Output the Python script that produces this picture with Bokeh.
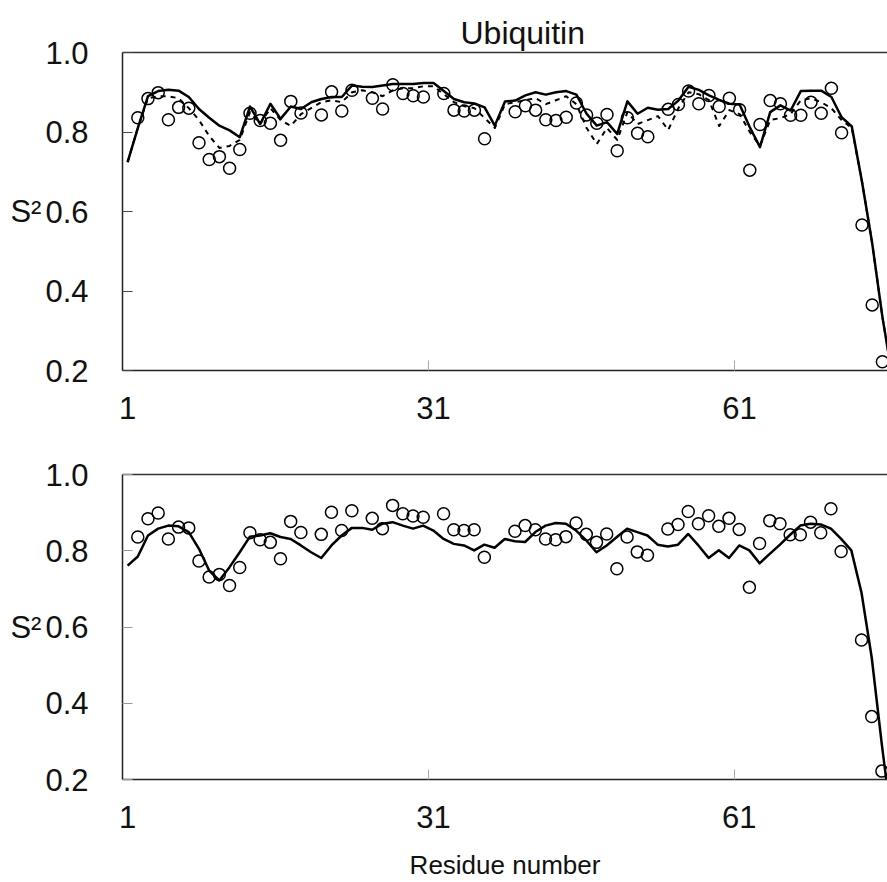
from bokeh.plotting import figure
from bokeh.layouts import column
from bokeh.models import (FixedTicker, LinearAxis, Range1d,
                          PrintfTickFormatter, ColumnDataSource)
from bokeh.embed import file_html
from bokeh.resources import INLINE

# ---------------- data ----------------
residues = list(range(1, 77))

# top panel: simulated S2, solid line
md_top_solid = [0.724, 0.810, 0.890, 0.903, 0.906, 0.904, 0.888, 0.858, 0.836, 0.816,
                0.804, 0.787, 0.864, 0.820, 0.871, 0.833, 0.864, 0.858, 0.875, 0.883,
                0.888, 0.888, 0.917, 0.914, 0.913, 0.917, 0.921, 0.921, 0.921, 0.923,
                0.923, 0.903, 0.883, 0.875, 0.872, 0.862, 0.816, 0.877, 0.879, 0.892,
                0.900, 0.894, 0.900, 0.903, 0.894, 0.846, 0.816, 0.825, 0.795, 0.877,
                0.846, 0.861, 0.856, 0.858, 0.879, 0.914, 0.906, 0.892, 0.881, 0.871,
                0.869, 0.812, 0.762, 0.850, 0.867, 0.854, 0.903, 0.904, 0.904, 0.888,
                0.837, 0.814, 0.675, 0.520, 0.335, 0.180]

# top panel: simulated S2, dashed line
md_top_dashed = [0.724, 0.810, 0.885, 0.890, 0.890, 0.885, 0.860, 0.830, 0.790, 0.760,
                 0.765, 0.780, 0.850, 0.820, 0.860, 0.830, 0.815, 0.845, 0.860, 0.875,
                 0.880, 0.875, 0.900, 0.905, 0.900, 0.890, 0.905, 0.910, 0.910, 0.915,
                 0.915, 0.895, 0.875, 0.865, 0.860, 0.835, 0.810, 0.870, 0.875, 0.880,
                 0.885, 0.870, 0.880, 0.890, 0.870, 0.810, 0.770, 0.810, 0.780, 0.850,
                 0.820, 0.830, 0.840, 0.805, 0.860, 0.900, 0.895, 0.880, 0.815, 0.855,
                 0.845, 0.800, 0.765, 0.830, 0.835, 0.845, 0.880, 0.885, 0.875, 0.860,
                 0.830, 0.810, 0.675, 0.520, 0.335, 0.180]

# bottom panel: simulated S2, solid line
md_bottom = [0.761, 0.785, 0.840, 0.858, 0.866, 0.864, 0.849, 0.805, 0.748, 0.722,
             0.757, 0.796, 0.837, 0.840, 0.846, 0.836, 0.831, 0.814, 0.796, 0.781,
             0.814, 0.840, 0.860, 0.860, 0.855, 0.871, 0.875, 0.866, 0.858, 0.866,
             0.853, 0.831, 0.818, 0.814, 0.801, 0.816, 0.808, 0.831, 0.825, 0.823,
             0.849, 0.866, 0.873, 0.871, 0.853, 0.827, 0.796, 0.814, 0.836, 0.858,
             0.849, 0.840, 0.816, 0.811, 0.816, 0.844, 0.814, 0.781, 0.801, 0.781,
             0.814, 0.801, 0.767, 0.792, 0.816, 0.842, 0.866, 0.871, 0.869, 0.858,
             0.831, 0.801, 0.690, 0.520, 0.290, 0.080]

# experimental S2 (open circles), same in both panels
exp_res = [2, 3, 4, 5, 6, 7, 8, 9, 10, 11, 12, 13, 14, 15, 16, 17, 18, 20, 21, 22,
           23, 25, 26, 27, 28, 29, 30, 32, 33, 34, 35, 36, 39, 40, 41, 42, 43, 44, 45,
           46, 47, 48, 49, 50, 51, 52, 54, 55, 56, 57, 58, 59, 60, 61, 62, 63, 64, 65,
           66, 67, 68, 69, 70, 71, 73, 74, 75]
exp_s2 = [0.836, 0.884, 0.899, 0.831, 0.862, 0.860, 0.773, 0.731, 0.738, 0.709,
          0.756, 0.847, 0.829, 0.822, 0.779, 0.877, 0.848, 0.843, 0.901, 0.853,
          0.905, 0.885, 0.858, 0.919, 0.897, 0.891, 0.888, 0.897, 0.855, 0.853,
          0.855, 0.783, 0.851, 0.866, 0.855, 0.831, 0.829, 0.837, 0.873, 0.843,
          0.822, 0.844, 0.753, 0.836, 0.797, 0.788, 0.857, 0.869, 0.903, 0.871,
          0.892, 0.864, 0.885, 0.856, 0.704, 0.819, 0.879, 0.871, 0.842, 0.842,
          0.875, 0.847, 0.910, 0.798, 0.566, 0.365, 0.222]

x_ticks = [1, 31, 61]
x_tick_labels = ["1", "31", "61"]
y_ticks = [0.2, 0.4, 0.6, 0.8, 1.0]

title_text = "Ubiquitin"
x_title = "Residue number"
y_title = "S\u00b2"

FONT = "Liberation Sans"
TXT = "#111111"


def make_panel(height, b_top, b_bottom, b_left, x_end, tick_color, with_title,
               with_xlabel):
    p = figure(width=887, height=height,
               x_range=Range1d(0.5, x_end), y_range=Range1d(0.2, 1.0),
               output_backend="svg", toolbar_location=None,
               x_axis_type=None, y_axis_type=None,
               min_border_left=b_left, min_border_right=0,
               min_border_top=b_top, min_border_bottom=b_bottom)
    p.outline_line_color = None
    p.background_fill_color = "white"
    p.border_fill_color = "white"

    if with_title:
        p.title.text = title_text
        p.title.align = "left"
        p.title.offset = 338
        p.title.standoff = 3
        p.title.text_font = FONT
        p.title.text_font_size = "32px"
        p.title.text_font_style = "normal"
        p.title.text_color = TXT

    # bottom x axis: labels at category centres, tick marks between categories
    boundaries = [t - 0.5 for t in x_ticks[1:]]
    xa = LinearAxis(ticker=FixedTicker(ticks=x_ticks, minor_ticks=boundaries),
                    major_label_overrides={t: l for t, l in zip(x_ticks, x_tick_labels)})
    xa.major_tick_line_color = None
    xa.minor_tick_in = 10
    xa.minor_tick_out = 0
    xa.minor_tick_line_color = "#aaaaaa"
    xa.minor_tick_line_width = 1
    xa.axis_line_color = "#222222"
    xa.axis_line_width = 1.5
    xa.major_label_standoff = 20
    xa.major_label_text_font = FONT
    xa.major_label_text_font_size = "31px"
    xa.major_label_text_color = TXT
    if with_xlabel:
        xa.axis_label = x_title
        xa.axis_label_text_font = FONT
        xa.axis_label_text_font_size = "26px"
        xa.axis_label_text_font_style = "normal"
        xa.axis_label_text_color = TXT
        xa.axis_label_standoff = 19
    p.add_layout(xa, "below")

    ya = LinearAxis(ticker=FixedTicker(ticks=y_ticks),
                    formatter=PrintfTickFormatter(format="%.1f"))
    ya.major_tick_in = 10
    ya.major_tick_out = 0
    ya.major_tick_line_color = tick_color
    ya.major_tick_line_width = 1
    ya.minor_tick_line_color = None
    ya.axis_line_color = "#222222"
    ya.axis_line_width = 1.5
    ya.major_label_standoff = 34
    ya.major_label_text_font = FONT
    ya.major_label_text_font_size = "31px"
    ya.major_label_text_color = TXT
    ya.axis_label = y_title
    ya.axis_label_orientation = "horizontal"
    ya.axis_label_standoff = 1
    ya.axis_label_text_font = FONT
    ya.axis_label_text_font_size = "31px"
    ya.axis_label_text_font_style = "normal"
    ya.axis_label_text_color = TXT
    p.add_layout(ya, "left")

    # top frame line
    ta = LinearAxis(ticker=FixedTicker(ticks=[]))
    ta.major_tick_line_color = None
    ta.minor_tick_line_color = None
    ta.major_label_text_font_size = "0px"
    ta.axis_line_color = "#333333"
    ta.axis_line_width = 1.5
    p.add_layout(ta, "above")
    return p


top = make_panel(430, 52, 60, 122, 0.5 + 765 / 10.2, "#444444", True, False)
bottom = make_panel(452, 44, 103, 120, 0.5 + 767 / 10.22, "#999999", False, True)

src_top = ColumnDataSource(dict(x=residues, solid=md_top_solid, dashed=md_top_dashed))
src_bot = ColumnDataSource(dict(x=residues, solid=md_bottom))
src_exp = ColumnDataSource(dict(x=exp_res, y=exp_s2))

top.line("x", "dashed", source=src_top, line_color="black", line_width=2,
         line_dash="5 5", line_join="round")
top.line("x", "solid", source=src_top, line_color="black", line_width=2.5,
         line_join="round")
top.scatter("x", "y", source=src_exp, marker="circle", size=12, fill_color=None,
            line_color="black", line_width=1.5)

bottom.line("x", "solid", source=src_bot, line_color="black", line_width=2.5,
            line_join="round")
bottom.scatter("x", "y", source=src_exp, marker="circle", size=12, fill_color=None,
               line_color="black", line_width=1.5)

layout = column(top, bottom, spacing=0)
open("out.html", "w").write(file_html(layout, INLINE))
